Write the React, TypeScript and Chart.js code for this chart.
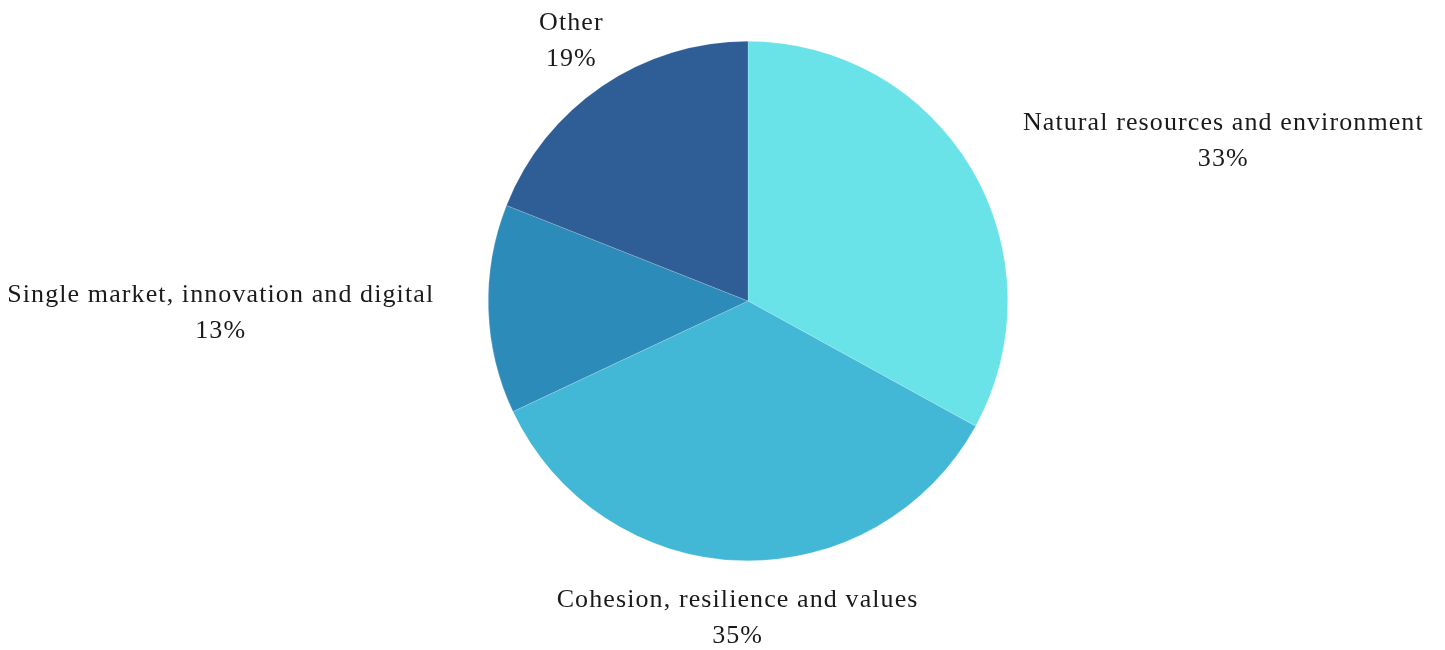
import React, { useEffect, useRef } from "react";
import { Chart, registerables } from "chart.js";

Chart.register(...registerables);

const categories = [
  "Natural resources and environment",
  "Cohesion, resilience and values",
  "Single market, innovation and digital",
  "Other",
];
const shares = [33, 35, 13, 19];
const colors = ["#69E3E8", "#43B7D6", "#2D8BBA", "#2F5E97"];
// label centre offsets relative to pie centre, in units of radius
const labelOffsets = [
  [1.83, -0.615],
  [-0.04, 1.22],
  [-2.03, 0.046],
  [-0.68, -1.0],
];

const FONT = "26px 'Liberation Serif', serif";

const labelPlugin = {
  id: "outerLabels",
  afterDraw(chart: any) {
    const ctx = chart.ctx;
    const meta = chart.getDatasetMeta(0);
    ctx.save();
    ctx.font = FONT;
    (ctx as any).letterSpacing = "1.1px";
    ctx.fillStyle = "#1a1a1a";
    ctx.textAlign = "center";
    ctx.textBaseline = "middle";
    meta.data.forEach((arc: any, i: number) => {
      const { x, y, outerRadius } = arc.getProps(["x", "y", "outerRadius"], true);
      const lx = x + labelOffsets[i][0] * outerRadius;
      const ly = y + labelOffsets[i][1] * outerRadius;
      ctx.fillText(categories[i], lx, ly - 18);
      ctx.fillText(shares[i] + "%", lx, ly + 18);
    });
    ctx.restore();
  },
};

export default function App() {
  const ref = useRef<HTMLCanvasElement>(null);
  useEffect(() => {
    document.body.style.margin = "0";
    const chart = new Chart(ref.current!, {
      type: "pie",
      data: {
        labels: categories,
        datasets: [
          {
            data: shares,
            backgroundColor: colors,
            borderColor: "rgba(255,255,255,0.35)",
            borderWidth: 0.5,
          },
        ],
      },
      options: {
        animation: false,
        responsive: false,
        layout: { padding: { left: 488, right: 437, top: 41, bottom: 89 } },
        plugins: { legend: { display: false }, tooltip: { enabled: false } },
      },
      plugins: [labelPlugin],
    });
    return () => chart.destroy();
  }, []);
  return (
    <div style={{ width: 1445, height: 650, background: "#fff" }}>
      <canvas ref={ref} width={1445} height={650} />
    </div>
  );
}
